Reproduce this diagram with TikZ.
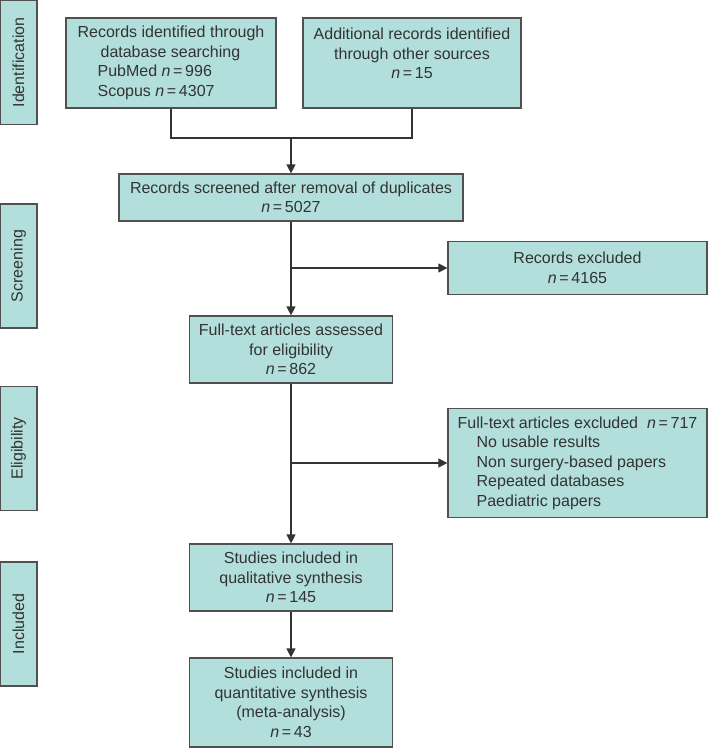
\documentclass[tikz,border=0pt]{standalone}
\usepackage{fontspec}
\setmainfont{Liberation Sans}
\usetikzlibrary{arrows.meta}
\definecolor{boxfill}{HTML}{B2DFDB}
\definecolor{boxline}{HTML}{505050}
\definecolor{inktext}{HTML}{333333}
\def\nval#1{\textit{n}\,=\,#1}
\tikzset{
	flowbox/.style={draw=boxline, fill=boxfill, line width=1.2pt, inner sep=0pt, text=inktext, font=\fontsize{16}{19.5}\selectfont, align=center},
	sidebox/.style={flowbox, rotate=90, minimum width=124pt, minimum height=37pt},
	flowline/.style={draw=inktext, line width=1.2pt},
	flowarrow/.style={flowline, -{Triangle[width=9pt,length=9pt]}}
}

\begin{document}
\begin{tikzpicture}[x=1pt, y=-1pt]
			%%%%% START %%%%%
			\useasboundingbox (0,0) rectangle (709,748);
			
			\node[sidebox] (ident) at (18.5, 62.5) {Identification};
			\node[sidebox] (screen) at (18.5, 266) {Screening};
			\node[sidebox] (elig) at (18.5, 448.5) {Eligibility};
			\node[sidebox] (incl) at (18.5, 624) {Included};
			
			\node[flowbox, align=left, minimum width=210pt, minimum height=90pt] (dbsearch) at (171, 63) {Records identified through\\ \hspace*{23pt}database searching\\ \hspace*{20pt}PubMed \nval{996}\\ \hspace*{20pt}Scopus \nval{4307}};
			\node[flowbox, minimum width=218pt, minimum height=90pt] (othersrc) at (412, 63) {Additional records identified\\ through other sources\\ \nval{15}\\ \mbox{}};
			
			\node[flowbox, minimum width=344pt, minimum height=47pt] (screened) at (291, 197.5) {Records screened after removal of duplicates\\ \nval{5027}};
			\node[flowbox, minimum width=259pt, minimum height=53pt] (recexcl) at (577.5, 268) {Records excluded\\ \nval{4165}};
			
			\node[flowbox, minimum width=203pt, minimum height=67pt] (fulltext) at (291, 349.5) {Full-text articles assessed\\ for eligibility\\ \nval{862}};
			\node[flowbox, align=left, minimum width=259pt, minimum height=109pt] (artexcl) at (577.5, 463) {Full-text articles excluded\ \ \nval{717}\\ \hspace*{19pt}No usable results\\ \hspace*{19pt}Non surgery-based papers\\ \hspace*{19pt}Repeated databases\\ \hspace*{19pt}Paediatric papers};
			
			\node[flowbox, minimum width=203pt, minimum height=67pt] (qualsyn) at (291, 577.5) {Studies included in\\ qualitative synthesis\\ \nval{145}};
			\node[flowbox, minimum width=203pt, minimum height=89pt] (quantsyn) at (291, 702.5) {Studies included in\\ quantitative synthesis\\ (meta-analysis)\\ \nval{43}};
			
			\coordinate (join) at (291, 138);
			\draw[flowline] (dbsearch.south) |- (join) -| (othersrc.south);
			\draw[flowarrow] (join) -- (screened.north);
			
			\draw[flowarrow] (screened.south) -- (fulltext.north);
			\coordinate (split1) at (291, 268);
			\draw[flowarrow] (split1) -- (split1 -| recexcl.west);
			
			\draw[flowarrow] (fulltext.south) -- (qualsyn.north);
			\coordinate (split2) at (291, 463);
			\draw[flowarrow] (split2) -- (split2 -| artexcl.west);
			
			\draw[flowarrow] (qualsyn.south) -- (quantsyn.north);
			%%%%% END %%%%%
\end{tikzpicture}
\end{document}
